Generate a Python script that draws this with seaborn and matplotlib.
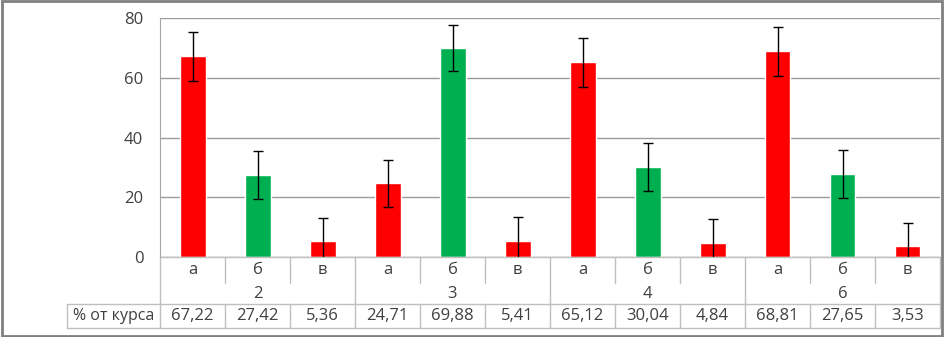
import matplotlib
matplotlib.use("Agg")
import matplotlib.pyplot as plt
import seaborn as sns
import pandas as pd
from matplotlib.transforms import blended_transform_factory
from matplotlib.patches import Rectangle

groups = ["2", "3", "4", "6"]
letters = ["а", "б", "в"]
values = [67.22, 27.42, 5.36, 24.71, 69.88, 5.41, 65.12, 30.04, 4.84, 68.81, 27.65, 3.53]
value_labels = ["67,22", "27,42", "5,36", "24,71", "69,88", "5,41",
                "65,12", "30,04", "4,84", "68,81", "27,65", "3,53"]
errors = [8.2, 8.0, 7.8, 7.9, 7.7, 7.9, 8.2, 8.0, 8.0, 8.2, 8.0, 7.9]
row_label = "% от курса"
yticks = [0, 20, 40, 60, 80]

cats = [f"{g}{l}" for g in groups for l in letters]
lets = [l for g in groups for l in letters]
df = pd.DataFrame({"cat": cats, "value": values, "letter": lets})

sns.set_style("white")
plt.rcParams["font.family"] = ["Open Sans", "DejaVu Sans"]

fig = plt.figure(figsize=(9.44, 3.37), dpi=100)
W, H = 944, 337
ax = fig.add_axes([160 / W, (H - 257) / H, 780 / W, 239 / H])

palette = {"а": "#FF0000", "б": "#00B050", "в": "#FF0000"}
sns.barplot(data=df, x="cat", y="value", hue="letter", palette=palette,
            dodge=False, width=0.4, legend=False, ax=ax, errorbar=None,
            saturation=1)
xs = list(range(len(cats)))
ax.errorbar(xs, values, yerr=errors, fmt="none", ecolor="black",
            elinewidth=1.0, capsize=3.5, capthick=1.0, zorder=5)

ax.set_xlim(-0.5, len(cats) - 0.5)
ax.set_ylim(0, 80)
ax.set_yticks(yticks)
ax.set_yticklabels([str(t) for t in yticks], fontsize=12, color="#404040")
ax.tick_params(axis="y", length=0, pad=12)
ax.set_xticks([])
ax.set_xlabel("")
ax.set_ylabel("")
ax.yaxis.grid(True, color="#9A9A9A", linewidth=1.0)
ax.set_axisbelow(True)
for s in ["top", "right", "bottom"]:
    ax.spines[s].set_visible(False)
ax.spines["left"].set_color("#A6A6A6")

# Data table
tr = blended_transform_factory(ax.transData, ax.transAxes)
lc = "#BFBFBF"
tc = "#404040"
r1 = -26 / 239
r2 = -47 / 239
r3 = -71 / 239
n = len(cats)
ax.plot([-0.5, n - 0.5], [0, 0], transform=tr, color=lc, lw=1, clip_on=False)
x_lab0 = -0.5 - (160 - 67) / 65
ax.plot([x_lab0, n - 0.5], [r2, r2], transform=tr, color=lc, lw=1, clip_on=False)
ax.plot([x_lab0, n - 0.5], [r3, r3], transform=tr, color=lc, lw=1, clip_on=False)
ax.plot([x_lab0, x_lab0], [r2, r3], transform=tr, color=lc, lw=1, clip_on=False)
for i in range(n + 1):
    xb = i - 0.5
    if i == 0 or i == n or i % 3 == 0:
        ax.plot([xb, xb], [0, r3], transform=tr, color=lc, lw=1, clip_on=False)
    else:
        ax.plot([xb, xb], [0, r1], transform=tr, color=lc, lw=1, clip_on=False)
        ax.plot([xb, xb], [r2, r3], transform=tr, color=lc, lw=1, clip_on=False)
for i, (l, v) in enumerate(zip(lets, value_labels)):
    ax.text(i, r1 / 2, l, transform=tr, ha="center", va="center", fontsize=12, color=tc)
    ax.text(i, (r2 + r3) / 2, v, transform=tr, ha="center", va="center", fontsize=12, color=tc)
for gi, g in enumerate(groups):
    ax.text(gi * 3 + 1, (r1 + r2) / 2, g, transform=tr, ha="center", va="center",
            fontsize=12, color=tc)
ax.text((x_lab0 - 0.5) / 2, (r2 + r3) / 2, row_label, transform=tr, ha="center",
        va="center", fontsize=11.5, color=tc)

fig.patches.append(Rectangle((0.002, 0.003), 0.996, 0.994, transform=fig.transFigure,
                             fill=False, edgecolor="#808080", linewidth=2))
fig.savefig("out.png", dpi=100)
